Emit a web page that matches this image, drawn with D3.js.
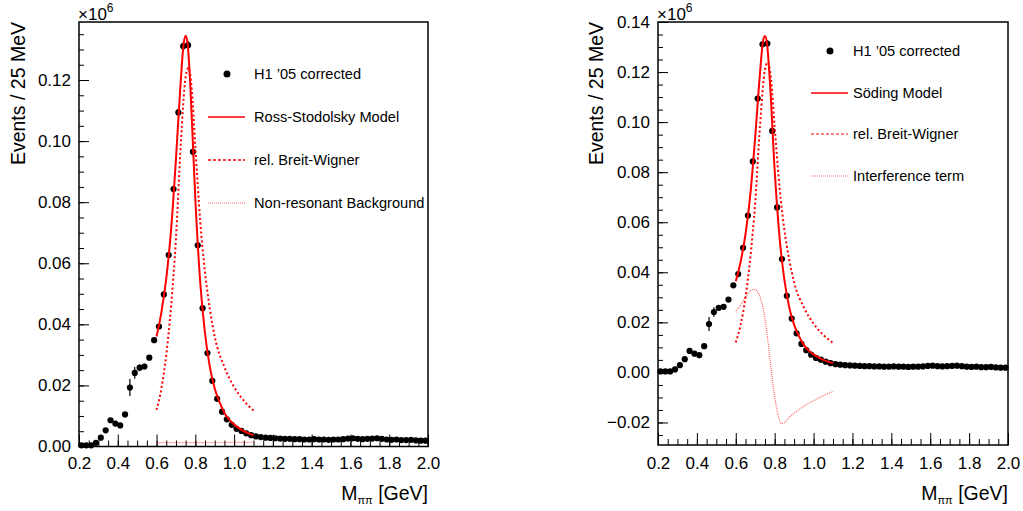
<!doctype html>
<html>
<head>
<meta charset="utf-8">
<title>Pion pair mass spectrum</title>
<style>
    body { margin: 0; background: #fff; }
    text { font-family: "Liberation Sans", Arial, sans-serif; fill: #000; }
</style>
</head>
<body>
<script src="https://d3js.org/d3.v7.min.js"></script>
<script>
    // measured points (bin centres, 25 MeV bins)
    var massBins = [0.2125, 0.2375, 0.2625, 0.2875, 0.3125, 0.3375, 0.3625, 0.3875, 0.4125, 0.4375,
        0.4625, 0.4875, 0.5125, 0.5375, 0.5625, 0.5875, 0.6125, 0.6375, 0.6625, 0.6875,
        0.7125, 0.7375, 0.7625, 0.7875, 0.8125, 0.8375, 0.8625, 0.8875, 0.9125, 0.9375,
        0.9625, 0.9875, 1.0125, 1.0375, 1.0625, 1.0875, 1.1125, 1.1375, 1.1625, 1.1875,
        1.2125, 1.2375, 1.2625, 1.2875, 1.3125, 1.3375, 1.3625, 1.3875, 1.4125, 1.4375,
        1.4625, 1.4875, 1.5125, 1.5375, 1.5625, 1.5875, 1.6125, 1.6375, 1.6625, 1.6875,
        1.7125, 1.7375, 1.7625, 1.7875, 1.8125, 1.8375, 1.8625, 1.8875, 1.9125, 1.9375,
        1.9625, 1.9875];
    var events = [0.0004, 0.0004, 0.0004, 0.0012, 0.0029, 0.0053, 0.0086, 0.0075, 0.0069, 0.0105,
        0.0193, 0.0241, 0.0258, 0.0262, 0.0291, 0.0348, 0.0393, 0.0498, 0.0627, 0.0843,
        0.1094, 0.1311, 0.1314, 0.0965, 0.0659, 0.0453, 0.0306, 0.0215, 0.0156, 0.0114,
        0.0089, 0.0071, 0.0058, 0.0051, 0.0043, 0.0037, 0.0033, 0.0031, 0.0029, 0.0028,
        0.0027, 0.0026, 0.0025, 0.0025, 0.0024, 0.0024, 0.0023, 0.0023, 0.0024, 0.0023,
        0.0023, 0.0022, 0.0023, 0.0023, 0.0024, 0.0026, 0.0027, 0.0025, 0.0024, 0.0025,
        0.0026, 0.0027, 0.0025, 0.0023, 0.0022, 0.0023, 0.0021, 0.0021, 0.0022, 0.0020,
        0.0019, 0.0019];
    var eventErrors = [0.0003, 0.0003, 0.0003, 0.0004, 0.0005, 0.0006, 0.0007, 0.0007, 0.0007, 0.0009,
        0.0028, 0.0019, 0.0011, 0.0009, 0.0008, 0.0008, 0.0008, 0.0009, 0.0010, 0.0011,
        0.0012, 0.0013, 0.0013, 0.0012, 0.0010, 0.0009, 0.0008, 0.0007, 0.0006, 0.0005,
        0.0005, 0.0004, 0.0004, 0.0004, 0.0004, 0.0003, 0.0003, 0.0003, 0.0003, 0.0003,
        0.0003, 0.0003, 0.0003, 0.0003, 0.0003, 0.0003, 0.0003, 0.0003, 0.0003, 0.0003,
        0.0003, 0.0003, 0.0003, 0.0003, 0.0003, 0.0003, 0.0003, 0.0003, 0.0003, 0.0003,
        0.0003, 0.0003, 0.0003, 0.0003, 0.0003, 0.0003, 0.0003, 0.0003, 0.0003, 0.0003,
        0.0003, 0.0003];

    // model curves
    var modelMass = [0.600, 0.625, 0.650, 0.675, 0.700, 0.725, 0.740, 0.750, 0.760, 0.775,
        0.800, 0.825, 0.850, 0.875, 0.900, 0.925, 0.950, 0.975, 1.000, 1.025, 1.050, 1.075, 1.100];
    var rossStodolsky = [0.0360, 0.0440, 0.0550, 0.0710, 0.0940, 0.1200, 0.1320, 0.1345, 0.1320, 0.1170,
        0.0810, 0.0540, 0.0370, 0.0260, 0.0190, 0.0145, 0.0110, 0.0088, 0.0072, 0.0060, 0.0050, 0.0043, 0.0037];
    var sodingModel = [0.0364, 0.0442, 0.0552, 0.0712, 0.0942, 0.1200, 0.1322, 0.1344, 0.1318, 0.1168,
        0.0808, 0.0540, 0.0370, 0.0260, 0.0190, 0.0145, 0.0110, 0.0088, 0.0072, 0.0060, 0.0050, 0.0043, 0.0037];
    var bwMass = [0.600, 0.625, 0.650, 0.675, 0.700, 0.725, 0.750, 0.765, 0.780, 0.800,
        0.825, 0.850, 0.875, 0.900, 0.950, 1.000, 1.050, 1.100];
    var breitWigner = [0.0120, 0.0190, 0.0300, 0.0460, 0.0680, 0.0990, 0.1210, 0.1240, 0.1180, 0.0980,
        0.0740, 0.0570, 0.0450, 0.0360, 0.0260, 0.0195, 0.0150, 0.0118];
    var bgMass = [0.600, 0.850, 1.100];
    var background = [0.0013, 0.0013, 0.0014];
    var intMass = [0.600, 0.625, 0.650, 0.675, 0.695, 0.715, 0.735, 0.755, 0.775, 0.795,
        0.815, 0.835, 0.850, 0.875, 0.900, 0.950, 1.000, 1.050, 1.100];
    var interference = [0.0240, 0.0270, 0.0300, 0.0325, 0.0332, 0.0318, 0.0275, 0.0190, 0.0060, -0.0070,
        -0.0160, -0.0205, -0.0200, -0.0180, -0.0163, -0.0135, -0.0113, -0.0093, -0.0076];

    var xTicks = [0.2, 0.4, 0.6, 0.8, 1.0, 1.2, 1.4, 1.6, 1.8, 2.0];
    var leftYTicks = [0.00, 0.02, 0.04, 0.06, 0.08, 0.10, 0.12];
    var rightYTicks = [-0.02, 0.00, 0.02, 0.04, 0.06, 0.08, 0.10, 0.12, 0.14];

    var w = 1023, h = 511;
    var svg = d3.select("body").append("svg")
        .attr("width", w)
        .attr("height", h);

    function zip(xs, ys) {
        return xs.map(function (x, i) { return [x, ys[i]]; });
    }

    function drawPanel(p) {
        var x = d3.scaleLinear().domain([0.2, 2.0]).range([p.left, p.right]);
        var y = d3.scaleLinear().domain(p.yDomain).range([p.bottom, p.top]);
        var g = svg.append("g");

        // minor ticks
        var xMinor = d3.range(0.2, 2.0001, 0.05);
        var yMinor = d3.range(Math.ceil(p.yDomain[0] / 0.005) * 0.005, p.yDomain[1] + 1e-9, 0.005);
        g.append("g")
            .attr("transform", "translate(0," + p.bottom + ")")
            .call(d3.axisBottom(x).tickValues(xMinor).tickSize(-6).tickFormat(""))
            .call(function (a) { a.select(".domain").remove(); });
        g.append("g")
            .attr("transform", "translate(" + p.left + ",0)")
            .call(d3.axisLeft(y).tickValues(yMinor).tickSize(-5).tickFormat(""))
            .call(function (a) { a.select(".domain").remove(); });

        // major ticks with labels
        g.append("g")
            .attr("class", "xaxis")
            .attr("transform", "translate(0," + p.bottom + ")")
            .call(d3.axisBottom(x).tickValues(xTicks).tickSize(-12).tickPadding(p.xPad)
                .tickFormat(d3.format(".1f")))
            .call(function (a) { a.select(".domain").remove(); });
        g.append("g")
            .attr("class", "yaxis")
            .attr("transform", "translate(" + p.left + ",0)")
            .call(d3.axisLeft(y).tickValues(p.yTicks).tickSize(-10).tickPadding(8)
                .tickFormat(d3.format(".2f")))
            .call(function (a) { a.select(".domain").remove(); });
        g.selectAll(".tick text").style("font-size", "17px")
            .style("font-family", "'Liberation Sans', Arial, sans-serif");
        g.selectAll(".tick line").attr("stroke", "#000").attr("stroke-width", 1);

        // frame
        g.append("rect")
            .attr("x", p.left).attr("y", p.top)
            .attr("width", p.right - p.left).attr("height", p.bottom - p.top)
            .attr("fill", "none").attr("stroke", "#000").attr("stroke-width", 1.5);

        var line = d3.line()
            .x(function (d) { return x(d[0]); })
            .y(function (d) { return y(d[1]); })
            .curve(d3.curveMonotoneX);

        // data
        var pts = zip(massBins, events);
        g.selectAll(".err").data(pts).enter().append("line")
            .attr("x1", function (d) { return x(d[0]); })
            .attr("x2", function (d) { return x(d[0]); })
            .attr("y1", function (d, i) { return y(d[1] - eventErrors[i]); })
            .attr("y2", function (d, i) { return y(d[1] + eventErrors[i]); })
            .attr("stroke", "#000").attr("stroke-width", 1.2);
        g.selectAll(".pt").data(pts).enter().append("circle")
            .attr("cx", function (d) { return x(d[0]); })
            .attr("cy", function (d) { return y(d[1]); })
            .attr("r", 3.1)
            .attr("fill", "#000");

        // curves
        p.curves.forEach(function (c) {
            g.append("path")
                .datum(zip(c.xs, c.ys))
                .attr("d", line)
                .attr("fill", "none")
                .attr("stroke", "#ff0000")
                .attr("stroke-width", c.width)
                .attr("stroke-opacity", c.opacity || 1)
                .attr("stroke-dasharray", c.dash || null);
        });

        // legend
        var lg = svg.append("g");
        lg.append("circle").attr("cx", p.legX).attr("cy", p.legY[0]).attr("r", 3.5).attr("fill", "#000");
        lg.append("text").attr("x", p.legText).attr("y", p.legY[0]).attr("dy", "0.35em")
            .style("font-size", "14.6px").text("H1 \u201905 corrected");
        p.curves.forEach(function (c, i) {
            var yy = p.legY[i + 1];
            lg.append("line")
                .attr("x1", p.legX - 19).attr("x2", p.legX + 18)
                .attr("y1", yy).attr("y2", yy)
                .attr("stroke", "#ff0000")
                .attr("stroke-width", c.legWidth)
                .attr("stroke-opacity", c.opacity || 1)
                .attr("stroke-dasharray", c.legDash || null);
            lg.append("text").attr("x", p.legText).attr("y", yy).attr("dy", "0.35em")
                .style("font-size", "14.6px").text(c.label);
        });

        // axis titles
        svg.append("text")
            .attr("transform", "translate(" + p.yTitleX + "," + p.top + ") rotate(-90)")
            .attr("text-anchor", "end")
            .style("font-size", "19.5px")
            .text("Events / 25 MeV");
        var xt = svg.append("text")
            .attr("x", p.right).attr("y", 500)
            .attr("text-anchor", "end")
            .style("font-size", "19.5px");
        xt.append("tspan").text("M");
        xt.append("tspan").attr("dy", 4).style("font-size", "11px").text("\u03c0\u03c0");
        xt.append("tspan").attr("dy", -4).text(" [GeV]");

        var ex = svg.append("text")
            .attr("x", p.left - 1).attr("y", 20)
            .style("font-size", "17px");
        ex.append("tspan").text("\u00d710");
        ex.append("tspan").attr("dy", -8).style("font-size", "12px").text("6");
    }

    drawPanel({
        left: 79, right: 428, top: 22, bottom: 446.5,
        yDomain: [0, 0.139], yTicks: leftYTicks, xPad: 10,
        legX: 227, legText: 254, legY: [74, 117, 160, 203],
        yTitleX: 25,
        curves: [
            { xs: modelMass, ys: rossStodolsky, width: 2, legWidth: 1.6, opacity: 1, label: "Ross-Stodolsky Model" },
            { xs: bwMass, ys: breitWigner, width: 2, dash: "2,2.5", legWidth: 1.3, legDash: "3,2", label: "rel. Breit-Wigner" },
            { xs: bgMass, ys: background, width: 1.2, dash: "1,1", opacity: 0.6, legWidth: 1.2, legDash: "1,1", label: "Non-resonant Background" }
        ]
    });

    drawPanel({
        left: 658, right: 1008, top: 22, bottom: 445,
        yDomain: [-0.029, 0.14], yTicks: rightYTicks, xPad: 12,
        legX: 830, legText: 853, legY: [51, 93, 134, 176],
        yTitleX: 603,
        curves: [
            { xs: modelMass, ys: sodingModel, width: 2, legWidth: 1.3, label: "S\u00f6ding Model" },
            { xs: bwMass, ys: breitWigner, width: 2, dash: "2,2.5", legWidth: 1.1, legDash: "3,2", label: "rel. Breit-Wigner" },
            { xs: intMass, ys: interference, width: 1.2, dash: "1,1", opacity: 0.6, legWidth: 1.1, legDash: "1,1", label: "Interference term" }
        ]
    });
</script>
</body>
</html>
